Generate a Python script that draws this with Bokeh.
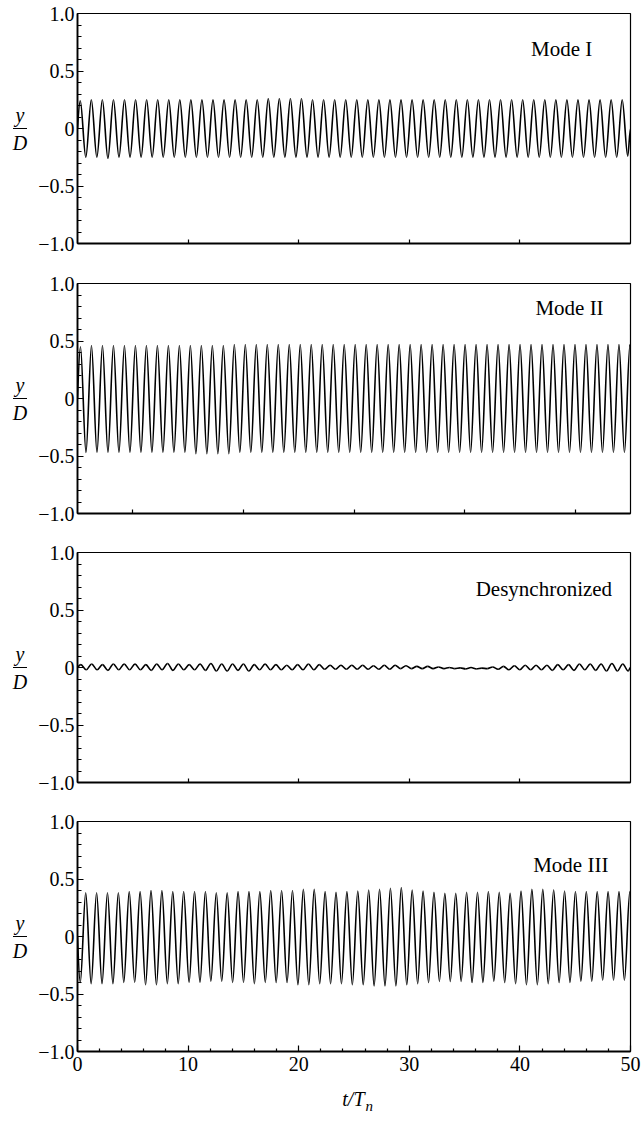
from bokeh.plotting import figure
from bokeh.models import FixedTicker, Label, ColumnDataSource
from bokeh.layouts import column, row
from bokeh.core.properties import value
from bokeh.embed import file_html
from bokeh.resources import INLINE

SERIF = "Liberation Serif"
T_RANGE = (0, 50)
Y_RANGE = (-1, 1)

# ---------------- data ----------------
# Each series: time of first extremum, oscillation period (t/Tn),
# whether the first extremum is a peak, peak values, trough values,
# the value at t=0 and the value at t=50.

# Mode I
mode1_first_t = 0.25
mode1_period = 1.0
mode1_first_is_peak = True
mode1_peaks = [0.24, 0.25, 0.25, 0.25, 0.25, 0.25, 0.25, 0.25, 0.25, 0.25,
               0.25, 0.25, 0.25, 0.25, 0.25, 0.25, 0.25, 0.26, 0.26, 0.26,
               0.26, 0.25, 0.25, 0.25, 0.25, 0.25, 0.25, 0.25, 0.25, 0.25,
               0.25, 0.25, 0.25, 0.25, 0.25, 0.25, 0.25, 0.25, 0.25, 0.25,
               0.25, 0.25, 0.25, 0.25, 0.25, 0.25, 0.25, 0.25, 0.25, 0.25]
mode1_troughs = [-0.25, -0.25, -0.26, -0.25, -0.25, -0.25, -0.25, -0.25, -0.25, -0.25,
                 -0.25, -0.25, -0.25, -0.25, -0.25, -0.25, -0.25, -0.25, -0.25, -0.25,
                 -0.25, -0.25, -0.25, -0.25, -0.25, -0.25, -0.25, -0.25, -0.25, -0.25,
                 -0.25, -0.25, -0.25, -0.25, -0.25, -0.25, -0.25, -0.25, -0.25, -0.25,
                 -0.25, -0.25, -0.25, -0.25, -0.25, -0.25, -0.25, -0.25, -0.25, -0.24]
mode1_start, mode1_end = 0.0, 0.0

# Mode II
mode2_first_t = 0.27
mode2_period = 0.9936
mode2_first_is_peak = True
mode2_peaks = [0.45, 0.46, 0.46, 0.46, 0.46, 0.46, 0.46, 0.46, 0.46, 0.46,
               0.46, 0.46, 0.46, 0.46, 0.47, 0.47, 0.47, 0.47, 0.47, 0.47,
               0.47, 0.47, 0.47, 0.47, 0.47, 0.47, 0.47, 0.47, 0.47, 0.47,
               0.47, 0.47, 0.47, 0.47, 0.47, 0.47, 0.47, 0.47, 0.47, 0.47,
               0.47, 0.47, 0.47, 0.47, 0.47, 0.47, 0.47, 0.47, 0.47, 0.47, 0.47]
mode2_troughs = [-0.47, -0.47, -0.47, -0.47, -0.47, -0.47, -0.47, -0.47, -0.47, -0.47,
                 -0.48, -0.48, -0.48, -0.48, -0.47, -0.47, -0.47, -0.47, -0.47, -0.47,
                 -0.47, -0.47, -0.47, -0.47, -0.47, -0.47, -0.47, -0.47, -0.47, -0.47,
                 -0.47, -0.47, -0.47, -0.47, -0.47, -0.47, -0.47, -0.47, -0.47, -0.47,
                 -0.47, -0.47, -0.47, -0.47, -0.47, -0.47, -0.47, -0.47, -0.47, -0.47]
mode2_start, mode2_end = 0.0, 0.45

# Desynchronized
desync_first_t = 0.30
desync_period = 0.98
desync_first_is_peak = True
desync_peaks = [0.025, 0.03, 0.025, 0.03, 0.03,
                0.03, 0.025, 0.03, 0.035, 0.03,
                0.025, 0.03, 0.035, 0.03, 0.03,
                0.03, 0.025, 0.03, 0.025, 0.02,
                0.025, 0.03, 0.025, 0.02, 0.02,
                0.02, 0.02, 0.015, 0.02, 0.02,
                0.015, 0.01, 0.01, 0.005, 0.0,
                -0.003, 0.0, -0.005, 0.005,
                0.01, 0.015, 0.02, 0.02, 0.02, 0.025,
                0.025, 0.03, 0.03, 0.03, 0.035, 0.03]
desync_troughs = [-0.02, -0.02, -0.025, -0.02, -0.02,
                  -0.02, -0.025, -0.02, -0.025, -0.02,
                  -0.02, -0.025, -0.03, -0.03, -0.025,
                  -0.03, -0.02, -0.02, -0.02, -0.02,
                  -0.02, -0.02, -0.015, -0.015, -0.015,
                  -0.015, -0.015, -0.015, -0.015, -0.01,
                  -0.01, -0.01, -0.01, -0.01, -0.01,
                  -0.012, -0.012, -0.01, -0.015,
                  -0.02, -0.02, -0.02, -0.02, -0.025, -0.02,
                  -0.025, -0.02, -0.025, -0.03, -0.03, -0.03]
desync_start, desync_end = 0.0, 0.0

# Mode III
mode3_first_t = 0.25
mode3_period = 0.984
mode3_first_is_peak = False
mode3_peaks = [0.38, 0.38, 0.38, 0.38, 0.39, 0.39, 0.40, 0.40, 0.39, 0.39,
               0.39, 0.39, 0.38, 0.38, 0.39, 0.39, 0.39, 0.40, 0.40, 0.40,
               0.41, 0.41, 0.39, 0.385, 0.39, 0.395, 0.405, 0.41, 0.42, 0.425,
               0.405, 0.395, 0.385, 0.375, 0.375, 0.385, 0.385, 0.39, 0.385, 0.375,
               0.395, 0.41, 0.41, 0.405, 0.395, 0.39, 0.39, 0.39, 0.39, 0.39, 0.39]
mode3_troughs = [-0.40, -0.41, -0.41, -0.41, -0.40, -0.40, -0.42, -0.42, -0.41, -0.41,
                 -0.40, -0.40, -0.39, -0.39, -0.40, -0.40, -0.41, -0.40, -0.40, -0.40,
                 -0.42, -0.42, -0.41, -0.41, -0.41, -0.42, -0.42, -0.43, -0.43, -0.43,
                 -0.42, -0.41, -0.40, -0.39, -0.39, -0.39, -0.40, -0.40, -0.39, -0.40,
                 -0.41, -0.42, -0.42, -0.41, -0.40, -0.40, -0.39, -0.39, -0.38, -0.38, -0.38]
mode3_start, mode3_end = 0.0, 0.38

panel_labels = ["Mode I", "Mode II", "Desynchronized", "Mode III"]
label_x = [41.0, 41.4, 36.0, 41.2]
label_y = [0.687, 0.79, 0.683, 0.618]

y_ticks = [-1.0, -0.5, 0.0, 0.5, 1.0]
y_tick_labels = ["\u22121.0", "\u22120.5", "0", "0.5", "1.0"]
y_minor_ticks = [-0.9, -0.8, -0.7, -0.6, -0.4, -0.3, -0.2, -0.1,
                 0.1, 0.2, 0.3, 0.4, 0.6, 0.7, 0.8, 0.9]
x_ticks_inner = [[10, 20, 30, 40], [5, 15, 25, 35, 45], [10, 20, 30, 40]]
x_ticks_bottom = [0, 10, 20, 30, 40, 50]
x_minor_bottom = [2, 4, 6, 8, 12, 14, 16, 18, 22, 24, 26, 28,
                  32, 34, 36, 38, 42, 44, 46, 48]
y_label_parts = ["y", "D"]
x_label_parts = ["t/T", "n"]


def segments(first_t, period, first_is_peak, peaks, troughs, start_y, end_y):
    """Bezier segments joining the read extrema (horizontal tangents at extrema)."""
    n = len(peaks) + len(troughs)
    pts = [(T_RANGE[0], start_y)]
    ip = it = 0
    for i in range(n):
        is_peak = (i % 2 == 0) == first_is_peak
        if is_peak:
            val = peaks[ip]; ip += 1
        else:
            val = troughs[it]; it += 1
        pts.append((first_t + i * period / 2.0, val))
    pts.append((T_RANGE[1], end_y))
    d = dict(x0=[], y0=[], x1=[], y1=[], cx0=[], cy0=[], cx1=[], cy1=[])
    for k in range(len(pts) - 1):
        (xa, ya), (xb, yb) = pts[k], pts[k + 1]
        dx = xb - xa
        d["x0"].append(xa); d["y0"].append(ya)
        d["x1"].append(xb); d["y1"].append(yb)
        d["cx0"].append(xa + dx / 3.0)
        d["cx1"].append(xa + 2.0 * dx / 3.0)
        d["cy0"].append(ya + 0.524 * (yb - ya) if k == 0 else ya)
        d["cy1"].append(yb)
    return ColumnDataSource(d)


series = [
    (mode1_first_t, mode1_period, mode1_first_is_peak, mode1_peaks, mode1_troughs, mode1_start, mode1_end),
    (mode2_first_t, mode2_period, mode2_first_is_peak, mode2_peaks, mode2_troughs, mode2_start, mode2_end),
    (desync_first_t, desync_period, desync_first_is_peak, desync_peaks, desync_troughs, desync_start, desync_end),
    (mode3_first_t, mode3_period, mode3_first_is_peak, mode3_peaks, mode3_troughs, mode3_start, mode3_end),
]

LAB_W = 30          # width of the narrow y-label strip
borders_bottom = [27, 26, 26, 30]


def bare(fig):
    fig.axis.visible = False
    fig.xgrid.visible = False
    fig.ygrid.visible = False
    fig.outline_line_color = None
    return fig


rows = []
for i in range(4):
    last = i == 3
    # ---- y/D strip ----
    lab = bare(figure(frame_width=LAB_W, frame_height=230, x_range=(0, LAB_W), y_range=Y_RANGE,
                      output_backend="svg", toolbar_location=None,
                      min_border_left=0, min_border_right=0, min_border_top=13,
                      min_border_bottom=borders_bottom[i]))
    lab.text(x=[19.5], y=[0.02], text=[y_label_parts[0]], text_font=value(SERIF),
             text_font_style="italic", text_font_size="20px", text_align="center",
             text_baseline="bottom", text_color="black")
    lab.segment(x0=[12.5], y0=[0], x1=[26.5], y1=[0], line_color="black", line_width=1)
    lab.text(x=[19.5], y=[-0.03], text=[y_label_parts[1]], text_font=value(SERIF),
             text_font_style="italic", text_font_size="20px", text_align="center",
             text_baseline="top", text_color="black")

    # ---- main panel ----
    p = figure(frame_width=553, frame_height=230, x_range=T_RANGE, y_range=Y_RANGE,
               output_backend="svg", toolbar_location=None,
               min_border_left=77 - LAB_W, min_border_right=12, min_border_top=13,
               min_border_bottom=borders_bottom[i], background_fill_color="white",
               border_fill_color="white")
    p.xgrid.visible = False
    p.ygrid.visible = False
    p.outline_line_color = "black"
    p.outline_line_width = 1.2

    ya = p.yaxis[0]
    ya.ticker = FixedTicker(ticks=y_ticks, minor_ticks=y_minor_ticks)
    ya.major_label_overrides = {t: s for t, s in zip(y_ticks, y_tick_labels)}
    ya.major_tick_in = 6
    ya.major_tick_out = 0
    ya.minor_tick_in = 4
    ya.minor_tick_out = 0
    ya.axis_line_width = 1.8
    ya.major_tick_line_width = 1.2
    ya.minor_tick_line_width = 1.2
    ya.major_label_standoff = 3
    ya.major_label_text_font = SERIF
    ya.major_label_text_font_size = "20px"
    ya.major_label_text_color = "black"

    xa = p.xaxis[0]
    xa.axis_line_width = 1.8
    xa.major_tick_out = 0
    xa.minor_tick_out = 0
    xa.major_tick_line_width = 1.2
    xa.minor_tick_line_width = 1.2
    if last:
        xa.ticker = FixedTicker(ticks=x_ticks_bottom, minor_ticks=x_minor_bottom)
        xa.major_tick_in = 6
        xa.minor_tick_in = 3
        xa.major_label_standoff = 5
        xa.major_label_text_font = SERIF
        xa.major_label_text_font_size = "20px"
        xa.major_label_text_color = "black"
    else:
        xa.ticker = FixedTicker(ticks=x_ticks_inner[i], minor_ticks=[])
        xa.major_tick_in = 4
        xa.minor_tick_in = 0
        xa.major_label_text_color = None
        xa.major_label_text_font_size = "1px"
        xa.major_label_standoff = 0

    src = segments(*series[i])
    p.bezier(x0="x0", y0="y0", x1="x1", y1="y1", cx0="cx0", cy0="cy0",
             cx1="cx1", cy1="cy1", source=src, line_color="black", line_width=1.6)

    p.add_layout(Label(x=label_x[i], y=label_y[i], text=panel_labels[i],
                       text_font=SERIF, text_font_size="21px", text_color="black",
                       text_align="left", text_baseline="alphabetic"))
    rows.append(row(lab, p, spacing=0))

# ---- x-axis title strip ----
XL_H = 1133 - 3 * 269 - 1 - (13 + 230 + borders_bottom[3])
xl = bare(figure(frame_width=642, frame_height=XL_H, x_range=(0, 642), y_range=(0, XL_H),
                 output_backend="svg", toolbar_location=None,
                 min_border_left=0, min_border_right=0, min_border_top=0, min_border_bottom=0))
xl.text(x=[364], y=[XL_H - 17], text=[x_label_parts[0]], text_font=value(SERIF),
        text_font_style="italic", text_font_size="20px", text_align="right",
        text_baseline="middle", text_color="black")
xl.text(x=[365], y=[XL_H - 24], text=[x_label_parts[1]], text_font=value(SERIF),
        text_font_style="italic", text_font_size="15px", text_align="left",
        text_baseline="middle", text_color="black")

layout = column(*rows, xl, spacing=0)
open("out.html", "w").write(file_html(layout, INLINE))
